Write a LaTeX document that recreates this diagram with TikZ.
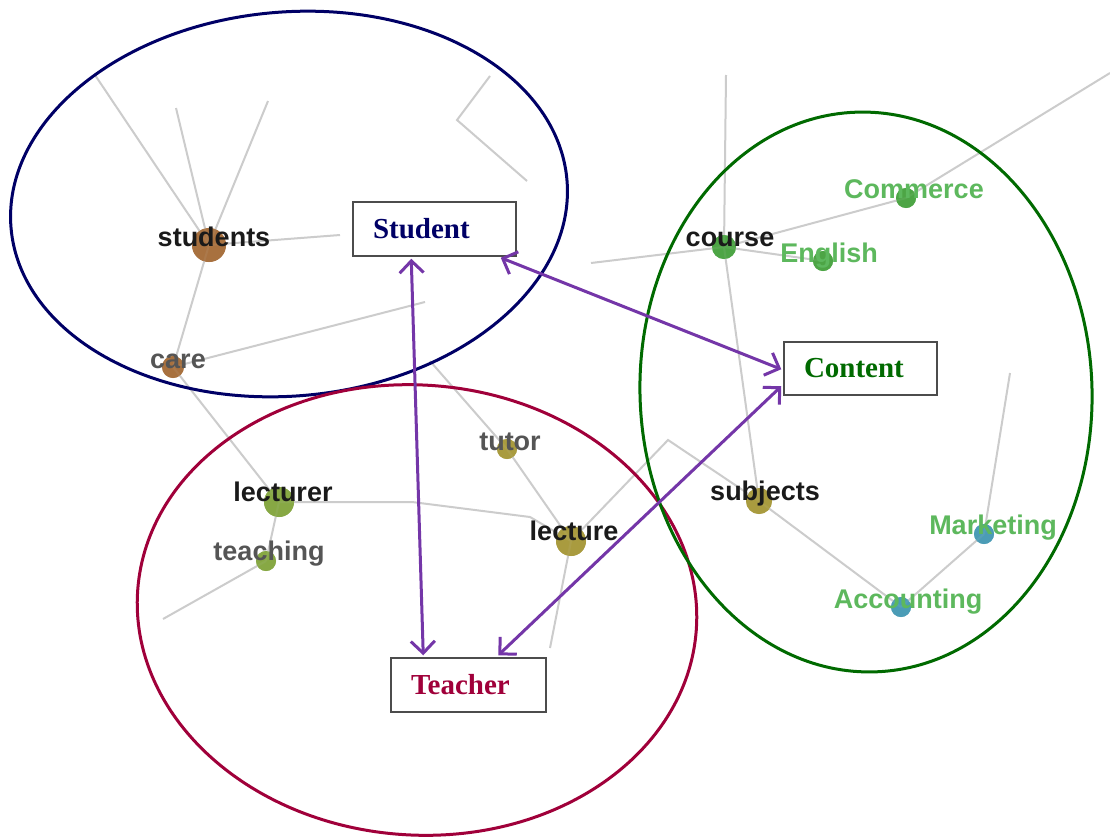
\documentclass[tikz,border=0pt]{standalone}
\usepackage{fontspec}
\setmainfont{Liberation Serif}
\setsansfont{Liberation Sans}
\usetikzlibrary{arrows.meta,calc}

\definecolor{navy}{HTML}{000066}
\definecolor{wine}{HTML}{A0003A}
\definecolor{forest}{HTML}{006A00}
\definecolor{violet}{HTML}{7436A8}
\definecolor{edgegray}{HTML}{CCCCCC}
\definecolor{brownnode}{HTML}{A8703E}
\definecolor{olivenode}{HTML}{86A843}
\definecolor{khakinode}{HTML}{A99B3E}
\definecolor{greennode}{HTML}{4CA544}
\definecolor{tealnode}{HTML}{4A9CB6}
\definecolor{termgreen}{HTML}{5DB85D}
\definecolor{termdark}{HTML}{1A1A1A}
\definecolor{termgray}{HTML}{555555}

\begin{document}
\begin{tikzpicture}[x=1pt,y=-1pt,
  edge/.style={draw=edgegray, line width=2pt},
  dot/.style={circle, inner sep=0pt, minimum size=#1, opacity=0.9},
  term/.style={font=\sffamily\bfseries\fontsize{27}{30}\selectfont, anchor=base, inner sep=0pt},
  concept/.style={draw=black!70, line width=1.5pt, fill=white, minimum height=54pt,
    inner xsep=20pt, align=left, font=\rmfamily\bfseries\fontsize{29}{32}\selectfont},
  tip/.style={Straight Barb[length=12pt,width=24pt]},
  link/.style={draw=violet, line width=3pt, {Straight Barb[length=12pt,width=24pt]}-{Straight Barb[length=12pt,width=24pt]}},
]
\useasboundingbox (0,0) rectangle (1110,838);
\fill[white] (0,0) rectangle (1110,838);

% ---- word graph: nodes ----
\node[dot=34pt, fill=brownnode] (students) at (209,245) {};
\node[dot=22pt, fill=brownnode] (care) at (173,367) {};
\node[dot=30pt, fill=olivenode] (lecturer) at (279,502) {};
\node[dot=20pt, fill=olivenode] (teaching) at (266,561) {};
\node[dot=20pt, fill=khakinode] (tutor) at (507,449) {};
\node[dot=30pt, fill=khakinode] (lecture) at (571,541) {};
\node[dot=26pt, fill=khakinode] (subjects) at (759,501) {};
\node[dot=24pt, fill=greennode] (course) at (724,247) {};
\node[dot=20pt, fill=greennode] (english) at (823,261) {};
\node[dot=20pt, fill=greennode] (commerce) at (906,198) {};
\node[dot=20pt, fill=tealnode] (marketing) at (984,534) {};
\node[dot=20pt, fill=tealnode] (accounting) at (901,607) {};

% free ends and bends of the graph edges
\coordinate (s1) at (95,75);
\coordinate (s2) at (176,108);
\coordinate (s3) at (268,101);
\coordinate (s4) at (340,235);
\coordinate (c1) at (425,302);
\coordinate (v1) at (490,76);
\coordinate (v2) at (457,120);
\coordinate (v3) at (527,181);
\coordinate (l1) at (412,502);
\coordinate (l2) at (530,517);
\coordinate (t1) at (163,619);
\coordinate (u1) at (430,361);
\coordinate (e1) at (550,648);
\coordinate (p1) at (668,440);
\coordinate (k1) at (726,75);
\coordinate (k2) at (591,263);
\coordinate (k3) at (1110,73);
\coordinate (m1) at (1010,373);

% ---- word graph: edges ----
\begin{scope}[on background layer/.try]
\draw[edge] (students.center) -- (s1);
\draw[edge] (students.center) -- (s2);
\draw[edge] (students.center) -- (s3);
\draw[edge] (students.center) -- (s4);
\draw[edge] (students.center) -- (care.center);
\draw[edge] (care.center) -- (c1);
\draw[edge] (care.center) -- (lecturer.center);
\draw[edge] (v1) -- (v2) -- (v3);
\draw[edge] (lecturer.center) -- (l1) -- (l2) -- (lecture.center);
\draw[edge] (lecturer.center) -- (teaching.center);
\draw[edge] (teaching.center) -- (t1);
\draw[edge] (u1) -- (tutor.center);
\draw[edge] (tutor.center) -- (lecture.center);
\draw[edge] (lecture.center) -- (e1);
\draw[edge] (lecture.center) -- (p1) -- (subjects.center);
\draw[edge] (subjects.center) -- (course.center);
\draw[edge] (course.center) -- (k1);
\draw[edge] (course.center) -- (k2);
\draw[edge] (course.center) -- (english.center);
\draw[edge] (course.center) -- (commerce.center) -- (k3);
\draw[edge] (subjects.center) -- (accounting.center);
\draw[edge] (accounting.center) -- (marketing.center);
\draw[edge] (marketing.center) -- (m1);
\end{scope}

% redraw the dots above the edges
\foreach \n/\s/\c in {students/34pt/brownnode, care/22pt/brownnode, lecturer/30pt/olivenode,
  teaching/20pt/olivenode, tutor/20pt/khakinode, lecture/30pt/khakinode, subjects/26pt/khakinode,
  course/24pt/greennode, english/20pt/greennode, commerce/20pt/greennode,
  marketing/20pt/tealnode, accounting/20pt/tealnode}
  \fill[\c, opacity=0.9] (\n.center) circle[radius=\s/2];

% ---- word labels ----
\node[term, termdark] (students-t) at ($(students)+(5,1)$) {students};
\node[term, termgray] (care-t) at ($(care)+(5,1)$) {care};
\node[term, termdark] (lecturer-t) at ($(lecturer)+(4,-1)$) {lecturer};
\node[term, termgray] (teaching-t) at ($(teaching)+(3,-1)$) {teaching};
\node[term, termgray] (tutor-t) at ($(tutor)+(3,1)$) {tutor};
\node[term, termdark] (lecture-t) at ($(lecture)+(3,-1)$) {lecture};
\node[term, termdark] (subjects-t) at ($(subjects)+(6,-1)$) {subjects};
\node[term, termdark] (course-t) at ($(course)+(6,-1)$) {course};
\node[term, termgreen] (english-t) at ($(english)+(6,1)$) {English};
\node[term, termgreen] (commerce-t) at ($(commerce)+(8,0)$) {Commerce};
\node[term, termgreen] (marketing-t) at ($(marketing)+(9,0)$) {Marketing};
\node[term, termgreen] (accounting-t) at ($(accounting)+(7,1)$) {Accounting};

% ---- concept areas ----
\draw[navy, line width=3pt, shift={(289,204)}, rotate=5] (0,0) ellipse[x radius=279pt, y radius=192pt];
\draw[wine, line width=3pt, shift={(417,610)}, rotate=-4] (0,0) ellipse[x radius=280pt, y radius=225pt];
\draw[forest, line width=3pt, shift={(866,392)}, rotate=2] (0,0) ellipse[x radius=226pt, y radius=280pt];

% ---- concept boxes ----
\node[concept, text=navy, text width=123pt] (student) at (434.5,229) {Student};
\node[concept, text=forest, text width=113pt, minimum height=53pt] (content) at (860.5,368.5) {Content};
\node[concept, text=wine, text width=115pt] (teacher) at (468.5,685) {Teacher};

% arrow end points on the boxes
\coordinate (st1) at ($(student.south west)+(59,2)$);
\coordinate (st2) at ($(student.south east)+(-16,1)$);
\coordinate (co1) at ($(content.north west)+(-2,28)$);
\coordinate (co2) at ($(content.north west)+(-2,45)$);
\coordinate (te1) at ($(teacher.north west)+(33,-2)$);
\coordinate (te2) at ($(teacher.north west)+(108,-2)$);

% ---- relations ----
\draw[link] (st1) -- (te1);
\draw[link] (st2) -- (co1);
\draw[link] (co2) -- (te2);
\end{tikzpicture}
\end{document}
